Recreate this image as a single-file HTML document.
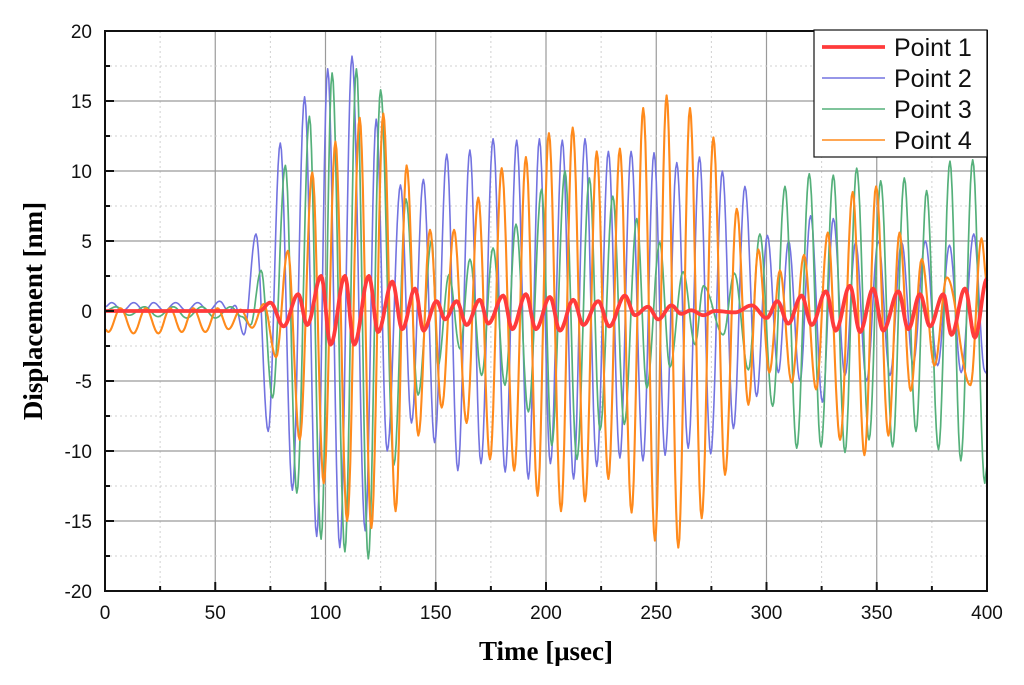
<!DOCTYPE html>
<html><head><meta charset="utf-8"><style>
html,body{margin:0;padding:0;background:#fff;width:1024px;height:685px;overflow:hidden}
svg{display:block}
</style></head><body>
<svg id="chart" width="1024" height="685" xmlns="http://www.w3.org/2000/svg" font-family="Liberation Sans, Arial, sans-serif">
<g id="grid"></g>
<g id="series"></g>
<rect x="105" y="31" width="882" height="560" fill="none" stroke="#111" stroke-width="2"/>
<g id="ticks"></g>
<text transform="translate(42,311) rotate(-90)" text-anchor="middle" font-family="Liberation Serif, serif" font-weight="bold" font-size="27">Displacement [nm]</text>
<text x="546" y="660" text-anchor="middle" font-family="Liberation Serif, serif" font-weight="bold" font-size="27">Time [μsec]</text>
<g id="legend">
<rect x="814" y="30" width="173" height="127" fill="#fff" stroke="#111" stroke-width="1.2"/>
</g>
</svg>
<script>
const xTicks=[0,50,100,150,200,250,300,350,400];
const yTicks=[-20,-15,-10,-5,0,5,10,15,20];
const seriesNames=['Point 1','Point 2','Point 3','Point 4'];
// extrema (time µs, displacement nm)
const p1T=[0,70,75,81,87.6,91.7,98,102.3,108.8,113,119.7,123.8,130.3,134.8,140.6,144.4,150.4,154.2,159.5,164,170,173.8,180.6,184.7,190.9,195.4,201.8,206.3,212.4,216.9,223.7,228.7,235.8,240.3,246.3,250.9,256.9,261.3,265.8,271.4,276.6,285.7,293.3,300.1,304.9,309.9,315.9,320.5,327,331.4,337.8,342.4,348.4,352.9,359.8,364.3,369.6,374.1,380.2,383.9,390,394.5,400];
const p1V=[0,0,0.6,-1.1,1.2,-1,2.5,-2.4,2.5,-2.4,2.5,-1.5,2.1,-1.3,1.6,-1.4,0.7,-0.6,0.7,-1,0.8,-0.9,1.1,-1.3,1.2,-1.3,1,-1.4,0.8,-1,0.7,-1.1,1.1,-0.3,0.3,-0.6,0.4,-0.2,0.05,-0.3,0,-0.1,0.4,-0.5,0.7,-0.9,1.1,-1,1.4,-1.4,1.8,-1.5,1.6,-1.4,1.4,-1.3,1.2,-1.1,1.2,-1.7,1.6,-1.9,2.3];
const p2T=[0,3,8,13,18,22,27,32,37,42,47,52,56,59,63,68.5,74,79.5,85,90.5,96,101,106.5,112,118,123,128,134,139,144.4,149.5,155,160,165.5,170.5,176,181.5,186.7,192,197,202,207.4,212.5,217.7,223,228.3,233.5,238.6,244,249,254,259.3,264.5,269.6,274.7,280,285,290.2,295.5,300.4,305.4,310,315.2,320,325.4,330.3,335.6,340.4,345.4,350.7,356,361.3,366.5,372,377.6,383,388.3,394,399,400];
const p2V=[0.3,0.6,0,0.6,0,0.6,0,0.6,0,0.6,0,0.7,0,0.4,-1.7,5.5,-8.6,12,-12.8,15.3,-16.1,17.3,-16.9,18.2,-15.7,13.7,-10,9,-8,9.4,-9.4,11.2,-11.4,11.5,-10.9,12.3,-11.5,12.2,-12,12.3,-10.9,12.2,-12,12.3,-11.1,11.4,-10.5,11.4,-10.7,11.3,-10.3,10.6,-9.8,11,-10.2,10,-8.4,8.9,-6.1,5.4,-4.4,5,-5,6.8,-6.5,6.6,-4.6,4.9,-5,5,-4.6,4.9,-3.8,5,-3.9,4.7,-4.4,5.5,-4.3,-4.5];
const p3T=[0,5,11,18,24,31,37,44,50,57,62,66,70.8,76,81.8,87,92.7,98,103,108.8,114,119.4,125,131,136.5,142,148.2,151,156,161,165.5,170.8,176,181.4,186.4,192,198,202.6,208.6,214,219.7,224.5,230.3,235.5,241.2,245.7,251.6,256.2,262.2,267.6,271.4,280.4,285.4,291.8,297,302.8,308.4,313.7,319.4,324.7,330.3,335.6,340.9,346.5,351.8,357.2,362.5,367.8,372.6,378,383.2,388.1,393.5,399,400];
const p3V=[0,0.3,-0.3,0.3,-0.4,0.3,-0.5,0.3,-0.5,0.3,-0.4,-1,2.9,-6.2,10.4,-13,13.9,-16.3,17,-17.2,17.3,-17.7,15.8,-11,8,-6,5.1,-3.9,2.6,-2.7,3.7,-4.6,4.5,-5.3,6.2,-7.2,8.7,-9.6,10,-10.6,9.5,-8.5,8.2,-8.1,6.6,-5.5,4.9,-4,2.8,-2.4,1.8,-1.7,2.7,-4.2,5.5,-6.8,8.9,-9.8,9.8,-9.7,9.7,-10.1,10.2,-9.2,9.3,-9.7,9.5,-8.6,8.6,-9.9,10.7,-10.7,10.8,-12.3,-11];
const p4T=[0,1.5,7,12.9,18.5,24.2,29.5,34.8,40,45.5,51,56,61.5,66.7,72,77.6,82.9,88.3,94,99.2,104.5,109.8,115.5,120.8,126.2,131.8,136.8,142.1,147.4,152.7,158.3,164,169.3,174.6,179.9,185.6,190.9,196.2,201.3,206.8,212.1,217.7,223,228.3,233.5,238.8,244.1,249.4,254.7,260,265.3,270.6,275.9,281.2,286.5,291.8,296.3,301.3,306.1,311.4,317,322.5,327.8,333.4,339.1,344.4,349.7,355.3,360.3,365.4,370.4,376.2,381.8,392.5,397.5,400];
const p4V=[-1.3,-1.5,0.2,-1.6,0.2,-1.6,0.2,-1.5,0.2,-1.5,0.2,-1.3,0.1,-1.2,0.5,-3.3,4.3,-9.2,9.9,-12.3,12.1,-15,13.8,-15.5,14.1,-14.3,10.4,-8.9,5.8,-6.9,5.8,-8,8.1,-10.6,10.2,-11.4,11,-13.2,12.7,-14.3,13.1,-13.6,11.4,-12,11.6,-14.4,14.5,-16.4,15.4,-16.9,14.5,-14.8,12.4,-11.7,7.3,-6.7,4.4,-4.4,2.9,-5.1,4,-5.6,5.6,-9.2,8.5,-10.3,8.9,-8.9,5.6,-5.7,3.7,-3.9,2.4,-5.3,5.2,2];
const seriesT=[p1T,p2T,p3T,p4T];
const seriesV=[p1V,p2V,p3V,p4V];
const colors=['#ff3b3b','#7373e0','#55b07a','#ff8a1c'];
const widths=[3.8,1.6,1.7,2.1];

const X0=105,X1=987,Y0=591,Y1=31;
const xS=t=>X0+(t-0)/(400)*(X1-X0);
const yS=v=>Y0-(v+20)/40*(Y0-Y1);
const NS='http://www.w3.org/2000/svg';
function mk(tag,attrs,parent){const e=document.createElementNS(NS,tag);for(const k in attrs)e.setAttribute(k,attrs[k]);parent.appendChild(e);return e;}
const grid=document.getElementById('grid'),ticks=document.getElementById('ticks');
for(let t=0;t<=400;t+=25){
  const major=t%50===0;
  const l=mk('line',{x1:xS(t),x2:xS(t),y1:Y1,y2:Y0,stroke:major?'#9a9a9a':'#d0d0d0','stroke-width':major?1.2:1,'stroke-dasharray':major?'':'2,3'},grid);
  
  
  const tk=mk('line',{x1:xS(t),x2:xS(t),y1:Y0,y2:Y0-(major?9:5),stroke:'#111','stroke-width':2},ticks);
  
  
}
for(let v=-20;v<=20;v+=2.5){
  const major=v%5===0;
  const l=mk('line',{x1:X0,x2:X1,y1:yS(v),y2:yS(v),stroke:major?'#9a9a9a':'#d0d0d0','stroke-width':major?1.2:1,'stroke-dasharray':major?'':'2,3'},grid);
  
  
  const tk=mk('line',{x1:X0,x2:X0+(major?9:5),y1:yS(v),y2:yS(v),stroke:'#111','stroke-width':2},ticks);
  
  
}
xTicks.forEach(t=>{const e=mk('text',{x:xS(t),y:619,'text-anchor':'middle','font-size':19,fill:'#111'},ticks);e.textContent=t;
  
  });
yTicks.forEach(v=>{const e=mk('text',{x:92,y:yS(v)+7,'text-anchor':'end','font-size':19,fill:'#111'},ticks);e.textContent=v;
  
  });
const layer=document.getElementById('series');
[1,2,3,0].forEach(i=>{
  const T=seriesT[i],V=seriesV[i];let d='';
  for(let k=0;k<T.length-1;k++){
    const n=Math.max(2,Math.ceil((T[k+1]-T[k])*2));
    for(let j=(k===0?0:1);j<=n;j++){
      const f=j/n,w=(1-Math.cos(Math.PI*f))/2;
      const t=T[k]+(T[k+1]-T[k])*f,v=V[k]+(V[k+1]-V[k])*w;
      d+=(d?'L':'M')+xS(t).toFixed(1)+','+yS(v).toFixed(1);
    }
  }
  const p=mk('path',{d:d,fill:'none',stroke:colors[i],'stroke-width':widths[i],'stroke-linejoin':'round'},layer);
  
  
});
const lg=document.getElementById('legend');
seriesNames.forEach((n,i)=>{
  const y=47+i*31;
  const l=mk('line',{x1:822,x2:885,y1:y,y2:y,stroke:colors[i],'stroke-width':i===0?3.8:1.6},lg);
  
  
  const t=mk('text',{x:894,y:y+9,'font-size':25,fill:'#111'},lg);t.textContent=n;
  
  
});
</script>
</body></html>
